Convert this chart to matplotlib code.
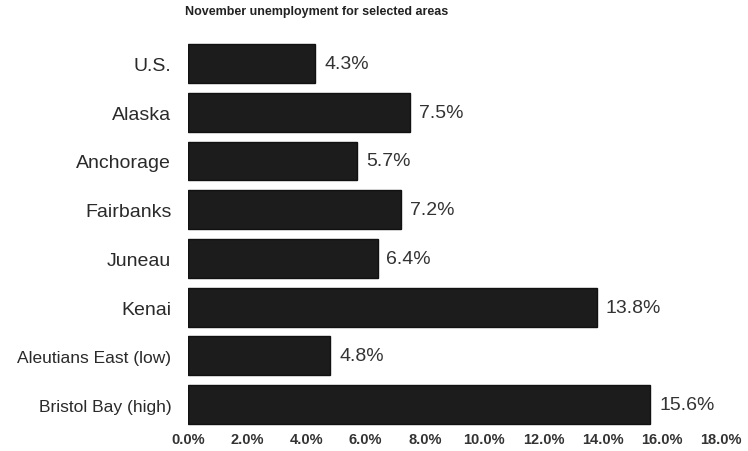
import numpy as np
import matplotlib.pyplot as plt

areas = ["U.S.", "Alaska", "Anchorage", "Fairbanks", "Juneau", "Kenai",
         "Aleutians East (low)", "Bristol Bay (high)"]
rates = [4.3, 7.5, 5.7, 7.2, 6.4, 13.8, 4.8, 15.6]
label_sizes = [14, 14, 14, 14, 14, 14, 12.5, 12.5]
ticks = [0, 2, 4, 6, 8, 10, 12, 14, 16, 18]
tick_labels = ["%.1f%%" % t for t in ticks]

plt.rcParams['font.family'] = ['Liberation Sans', 'DejaVu Sans']

fig = plt.figure(figsize=(7.48, 4.52), dpi=100)
ax = fig.add_axes([0.2513, 0.049, 0.713, 0.862])

y = np.arange(len(areas))
ax.barh(y, rates, height=0.8, color="#1c1c1c", edgecolor="#111111")
for yi, r in zip(y, rates):
    ax.text(r + 0.3, yi, "%.1f%%" % r, va="center", ha="left",
            fontsize=14, color="#333333")

ax.set_ylim(len(areas) - 0.5, -0.5)
ax.set_xlim(0, 18)
ax.set_yticks(y)
ax.set_yticklabels(areas, color="#2a2a2a")
for lab, fs in zip(ax.get_yticklabels(), label_sizes):
    lab.set_fontsize(fs)
ax.set_xticks(ticks)
ax.set_xticklabels(tick_labels, fontsize=10.5, fontweight="bold", color="#333333")
ax.tick_params(axis="y", length=0, pad=12)
ax.tick_params(axis="x", length=0, pad=2)
for s in ax.spines.values():
    s.set_visible(False)

fig.text(0.247, 0.973, "November unemployment for selected areas",
         fontsize=9, fontweight="bold", color="#222222", va="center")

fig.savefig("out.png", dpi=100)
